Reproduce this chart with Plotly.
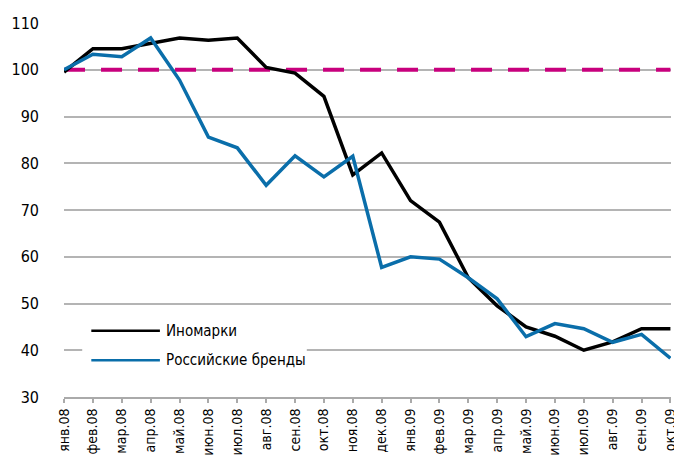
import plotly.graph_objects as go

months = ["янв.08", "фев.08", "мар.08", "апр.08", "май.08", "июн.08", "июл.08", "авг.08",
          "сен.08", "окт.08", "ноя.08", "дек.08", "янв.09", "фев.09", "мар.09", "апр.09",
          "май.09", "июн.09", "июл.09", "авг.09", "сен.09", "окт.09"]
foreign = [99.5, 104.5, 104.5, 105.7, 106.8, 106.3, 106.8, 100.5, 99.3, 94.3, 77.5, 82.2,
           72.0, 67.4, 55.5, 49.5, 45.0, 43.0, 40.0, 41.8, 44.6, 44.6]
russian = [100.0, 103.3, 102.8, 106.8, 97.8, 85.6, 83.3, 75.3, 81.6, 77.1, 81.5, 57.7,
           60.0, 59.5, 55.5, 51.0, 42.9, 45.7, 44.6, 41.7, 43.4, 38.3]
baseline = 100
y_ticks = [30, 40, 50, 60, 70, 80, 90, 100, 110]

x = list(range(len(months)))
FONT = "Liberation Sans Narrow, DejaVu Sans Condensed, Arial Narrow, sans-serif"

fig = go.Figure()
fig.add_trace(go.Scatter(x=[x[0], x[-1]], y=[baseline, baseline], mode="lines",
                         line=dict(color="#C8007D", width=4, dash="21px,16px"),
                         showlegend=False, hoverinfo="skip"))
fig.add_trace(go.Scatter(x=x, y=foreign, mode="lines", name="Иномарки",
                         line=dict(color="#000000", width=3.5)))
fig.add_trace(go.Scatter(x=x, y=russian, mode="lines", name="Российские бренды",
                         line=dict(color="#0A6EAA", width=3.5)))

# manual legend
fig.add_shape(type="rect", xref="paper", yref="paper", x0=0.03, x1=0.40, y0=0.045, y1=0.215,
              fillcolor="white", line=dict(width=0), layer="above")
for yy, col, txt in [(0.177, "#000000", "Иномарки"), (0.098, "#0A6EAA", "Российские бренды")]:
    fig.add_shape(type="line", xref="paper", yref="paper", x0=0.045, x1=0.158, y0=yy, y1=yy,
                  line=dict(color=col, width=2.5), layer="above")
    fig.add_annotation(xref="paper", yref="paper", x=0.165, y=yy, text=txt, showarrow=False,
                       xanchor="left", yanchor="middle", font=dict(family=FONT, size=15, color="#000"))

fig.update_layout(
    width=674, height=459,
    margin=dict(l=55, r=4, t=15, b=70),
    paper_bgcolor="white", plot_bgcolor="white",
    showlegend=False,
    font=dict(family=FONT, size=15, color="#000"),
)
fig.update_xaxes(range=[-0.001, 21.02], tickvals=x, ticktext=months, tickangle=-90,
                 showgrid=False, showline=True, linecolor="#AAAAAA", linewidth=2,
                 ticks="outside", ticklen=4, tickcolor="#AAAAAA", tickwidth=1.5,
                 tickfont=dict(family=FONT, size=14), zeroline=False,
                 ticklabeloverflow="allow")
fig.update_yaxes(range=[30, 110], tickvals=y_ticks, showgrid=True, gridcolor="#B4B4B4",
                 gridwidth=1.5, zeroline=False, showline=False, ticklabelstandoff=24,
                 tickfont=dict(family=FONT, size=16))

fig.write_html("out.html")
